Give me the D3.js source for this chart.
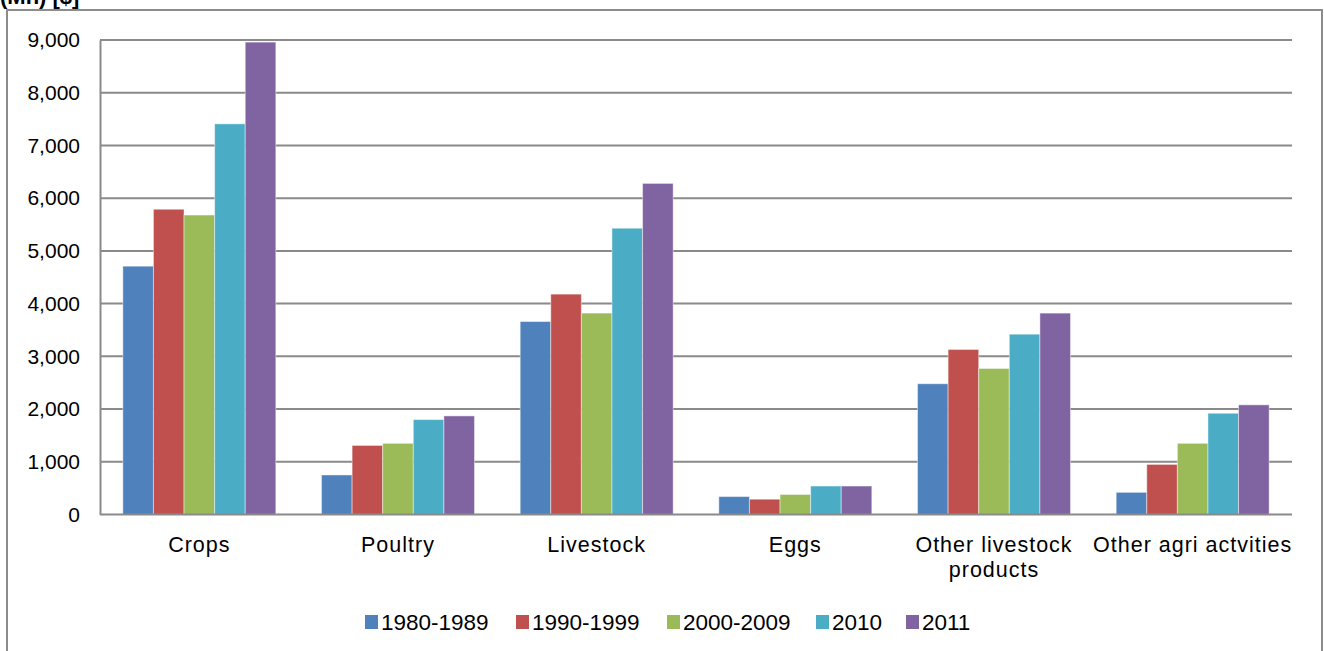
<!DOCTYPE html>
<html>
<head>
<meta charset="utf-8">
<script src="https://cdn.jsdelivr.net/npm/d3@7"></script>
<style>
  html, body { margin: 0; padding: 0; background: #fff; }
  svg { display: block; font-family: "Liberation Sans", Arial, sans-serif; }
</style>
</head>
<body>
<svg id="chart" width="1324" height="651"></svg>
<script>
// Categories and series
const categories = [
  ["Crops"],
  ["Poultry"],
  ["Livestock"],
  ["Eggs"],
  ["Other livestock", "products"],
  ["Other agri actvities"]
];
const seriesNames = ["1980-1989", "1990-1999", "2000-2009", "2010", "2011"];
const seriesColors = ["#4F81BD", "#C0504D", "#9BBB59", "#4BACC6", "#8064A2"];

// Values per series, in category order
const v1980s = [4710, 750, 3660, 340, 2480, 420];
const v1990s = [5790, 1310, 4180, 290, 3130, 950];
const v2000s = [5680, 1350, 3820, 380, 2770, 1350];
const v2010  = [7410, 1800, 5430, 540, 3420, 1920];
const v2011  = [8960, 1870, 6280, 540, 3820, 2080];
const seriesValues = [v1980s, v1990s, v2000s, v2010, v2011];

const yTicks = [0, 1000, 2000, 3000, 4000, 5000, 6000, 7000, 8000, 9000];

const svg = d3.select("#chart");
const plot = { left: 100, right: 1292, top: 40, bottom: 514.5 };

// Outer chart frame
svg.append("rect")
  .attr("x", 7).attr("y", 10)
  .attr("width", 1315).attr("height", 700)
  .attr("fill", "none")
  .attr("stroke", "#8c8c8c")
  .attr("stroke-width", 2);

// Unit label at the top edge
svg.append("text")
  .attr("x", 0).attr("y", 4)
  .attr("font-size", 22).attr("font-weight", "bold")
  .attr("fill", "#000")
  .text("(Mn) [$]");

const x0 = d3.scaleBand()
  .domain(d3.range(categories.length))
  .range([plot.left, plot.right])
  .padding(0);

const bw = x0.bandwidth();
const x1 = d3.scaleBand()
  .domain(d3.range(seriesNames.length))
  .range([bw * 0.115, bw * 0.885])
  .padding(0);

const y = d3.scaleLinear()
  .domain([0, 9000])
  .range([plot.bottom, plot.top]);

// Horizontal gridlines
svg.append("g")
  .selectAll("line")
  .data(yTicks.filter(d => d > 0))
  .join("line")
  .attr("x1", plot.left).attr("x2", plot.right)
  .attr("y1", d => y(d)).attr("y2", d => y(d))
  .attr("stroke", "#8a8a8a")
  .attr("stroke-width", 2);

// Y axis labels
const yAxis = d3.axisLeft(y)
  .tickValues(yTicks)
  .tickFormat(d3.format(","))
  .tickSize(0)
  .tickPadding(20);
const gy = svg.append("g")
  .attr("transform", `translate(${plot.left},0)`)
  .call(yAxis);
gy.select(".domain").attr("stroke", "#8a8a8a").attr("stroke-width", 2);
gy.selectAll("text")
  .attr("font-size", 21)
  .attr("fill", "#000")
  .attr("font-family", "\"Liberation Sans\", Arial, sans-serif");

// Bars
const groups = svg.append("g")
  .selectAll("g")
  .data(categories.map((c, i) => i))
  .join("g")
  .attr("transform", i => `translate(${x0(i)},0)`);

groups.selectAll("rect")
  .data(i => seriesValues.map((vals, s) => ({ s, v: vals[i] })))
  .join("rect")
  .attr("x", d => x1(d.s))
  .attr("width", x1.bandwidth())
  .attr("y", d => y(d.v))
  .attr("height", d => plot.bottom - y(d.v))
  .attr("fill", d => seriesColors[d.s])
  .attr("stroke", "rgba(255,255,255,0.45)")
  .attr("stroke-width", 1);

// X axis baseline
svg.append("line")
  .attr("x1", plot.left).attr("x2", plot.right)
  .attr("y1", plot.bottom).attr("y2", plot.bottom)
  .attr("stroke", "#8a8a8a")
  .attr("stroke-width", 2);

// Category labels
const catLabels = svg.append("g")
  .selectAll("text")
  .data(categories)
  .join("text")
  .attr("x", (d, i) => x0(i) + bw / 2)
  .attr("y", 551.5)
  .attr("text-anchor", "middle")
  .attr("font-size", 21.5)
  .attr("letter-spacing", 1)
  .attr("fill", "#000");
catLabels.selectAll("tspan")
  .data(d => d)
  .join("tspan")
  .attr("x", function () { return d3.select(this.parentNode).attr("x"); })
  .attr("dy", (d, j) => j === 0 ? 0 : 25)
  .text(d => d);

// Legend
const legendX = [365, 516, 667, 816, 906];
const legend = svg.append("g")
  .selectAll("g")
  .data(seriesNames)
  .join("g")
  .attr("transform", (d, i) => `translate(${legendX[i]},615)`);
legend.append("rect")
  .attr("width", 13).attr("height", 14)
  .attr("fill", (d, i) => seriesColors[i]);
legend.append("text")
  .attr("x", 16).attr("y", 15)
  .attr("font-size", 22.5)
  .attr("fill", "#000")
  .text(d => d);
</script>
</body>
</html>
